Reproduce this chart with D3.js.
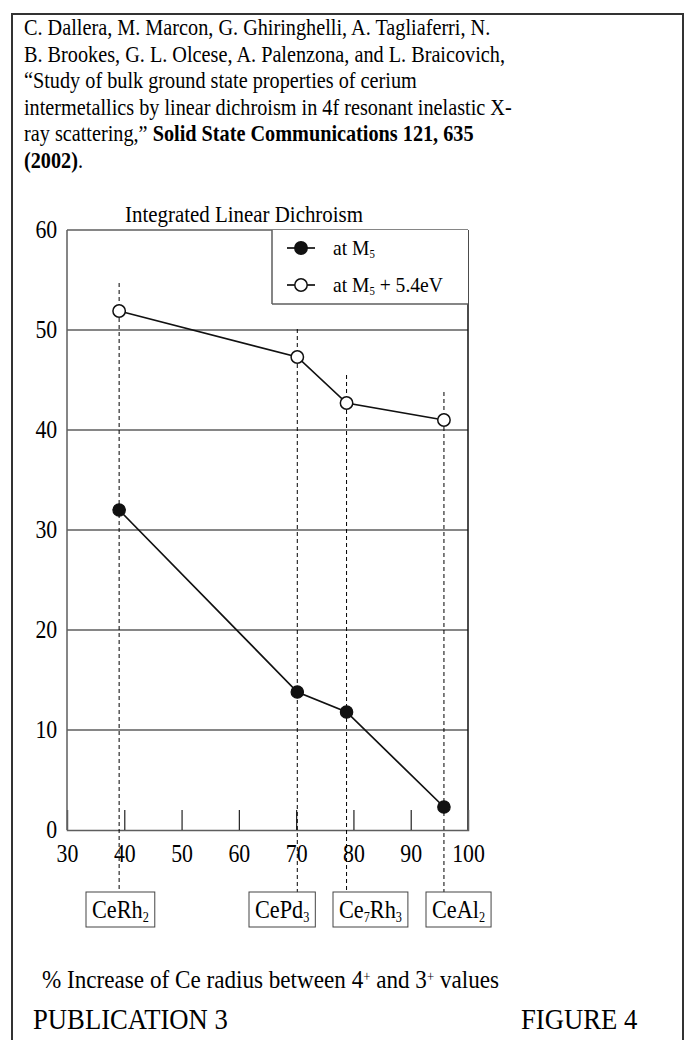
<!DOCTYPE html>
<html>
<head>
<meta charset="utf-8">
<script src="https://cdn.jsdelivr.net/npm/d3@7"></script>
<style>
  body { margin: 0; background: #fff; }
</style>
</head>
<body>
<svg id="fig" width="685" height="1040"></svg>
<script>
// Compounds, their % increase of Ce radius (4+ -> 3+), and integrated linear dichroism
const compounds = ["CeRh_2", "CePd_3", "Ce_7Rh_3", "CeAl_2"];
const radiusIncrease = [39.1, 70.2, 78.8, 95.8];
const dichroismM5 = [32.0, 13.8, 11.8, 2.3];
const dichroismM5Plus = [51.9, 47.3, 42.7, 41.0];
const seriesNames = ["at M_5", "at M_5 + 5.4eV"];
const xTicks = [30, 40, 50, 60, 70, 80, 90, 100];
const yTicks = [0, 10, 20, 30, 40, 50, 60];

const citation = [
  [["C. Dallera, M. Marcon, G. Ghiringhelli, A. Tagliaferri, N.", false]],
  [["B. Brookes, G. L. Olcese, A. Palenzona, and L. Braicovich,", false]],
  [["\u201CStudy of bulk ground state properties of cerium", false]],
  [["intermetallics by linear dichroism in 4f resonant inelastic X-", false]],
  [["ray scattering,\u201D ", false], ["Solid State Communications 121, 635", true]],
  [["(2002)", true], [".", false]]
];

const SERIF = '"Liberation Serif", "Times New Roman", serif';
const SX = 0.89;   // narrow set width of the typeface

const svg = d3.select("#fig");

// text placed at (x, y) with a slightly condensed set width
function label(parent, x, y, size, sx = SX) {
  return parent.append("text")
    .attr("transform", `translate(${x},${y}) scale(${sx},1)`)
    .style("font-family", SERIF).style("font-size", size + "px").style("fill", "#000");
}

// render a string where "_x" marks a subscript and "^x" a superscript
function richText(sel, str, size) {
  const parts = str.split(/([_^][^ _^A-Za-z]+)/).filter(p => p !== "");
  parts.forEach(p => {
    if (p[0] === "_" || p[0] === "^") {
      sel.append("tspan").text(p.slice(1))
        .attr("baseline-shift", p[0] === "_" ? "-30%" : "48%")
        .style("font-size", (size * 0.55) + "px");
    } else {
      sel.append("tspan").text(p);
    }
  });
  return sel;
}

// page frame
svg.append("path")
  .attr("d", "M12,1045 V14 H683 V1045")
  .attr("fill", "none").attr("stroke", "#333").attr("stroke-width", 2);

// citation block
citation.forEach((segs, i) => {
  const t = label(svg, 24, 35 + i * 26.6, 23, 0.88);
  segs.forEach(([s, bold]) => {
    t.append("tspan").text(s).style("font-weight", bold ? "bold" : "normal");
  });
});

const plotL = 67, plotR = 468, plotT = 230, plotB = 830;
const x = d3.scaleLinear().domain([30, 100]).range([plotL, plotR]);
const y = d3.scaleLinear().domain([0, 60]).range([plotB, plotT]);

const gridColor = "#5e5e5e";

// horizontal gridlines
svg.append("g").selectAll("line")
  .data(yTicks.filter(v => v > 0 && v < 60))
  .join("line")
  .attr("x1", plotL).attr("x2", plotR)
  .attr("y1", d => y(d)).attr("y2", d => y(d))
  .attr("stroke", gridColor).attr("stroke-width", 1.5);

// plot frame
svg.append("line").attr("x1", plotL).attr("x2", plotR).attr("y1", plotT).attr("y2", plotT)
  .attr("stroke", gridColor).attr("stroke-width", 1.5);
svg.append("line").attr("x1", plotL).attr("x2", plotL).attr("y1", plotT).attr("y2", plotB)
  .attr("stroke", gridColor).attr("stroke-width", 1.5);
svg.append("line").attr("x1", plotR).attr("x2", plotR).attr("y1", plotT).attr("y2", plotB)
  .attr("stroke", "#111").attr("stroke-width", 1.5);

// x axis: inner ticks pointing up, labels below
const xAxis = svg.append("g").attr("transform", `translate(0,${plotB})`)
  .call(d3.axisBottom(x).tickValues(xTicks).tickSize(-20).tickPadding(15).tickFormat(d3.format("d")));
xAxis.attr("font-family", null).attr("font-size", null);
xAxis.select(".domain").attr("stroke", gridColor).attr("stroke-width", 1.5);
xAxis.selectAll(".tick line").attr("stroke", "#222").attr("stroke-width", 1.2)
  .attr("display", d => (d === 30 || d === 100) ? "none" : null);
xAxis.selectAll(".tick text")
  .style("font-family", SERIF).style("font-size", "24.5px").style("fill", "#000")
  .attr("transform", `scale(${SX},1)`);

// y axis labels
const yAxis = svg.append("g").attr("transform", `translate(${plotL},0)`)
  .call(d3.axisLeft(y).tickValues(yTicks).tickSize(0).tickPadding(11).tickFormat(d3.format("d")));
yAxis.attr("font-family", null).attr("font-size", null);
yAxis.select(".domain").remove();
yAxis.selectAll(".tick text")
  .style("font-family", SERIF).style("font-size", "24.5px").style("fill", "#000")
  .attr("transform", `scale(${SX},1)`);

// y axis title
label(svg, 125, 222, 23.5).text("Integrated Linear Dichroism");

// dashed guides from each compound up past its points and down to its label box
const boxTop = 892, boxH = 35;
svg.append("g").selectAll("line")
  .data(radiusIncrease)
  .join("line")
  .attr("x1", d => x(d)).attr("x2", d => x(d))
  .attr("y1", (d, i) => y(dichroismM5Plus[i]) - 28)
  .attr("y2", boxTop)
  .attr("stroke", "#000").attr("stroke-width", 1).attr("stroke-dasharray", "4,3");

// series lines and markers
const line = d3.line().x(d => x(d[0])).y(d => y(d[1]));
const ptsA = radiusIncrease.map((v, i) => [v, dichroismM5[i]]);
const ptsB = radiusIncrease.map((v, i) => [v, dichroismM5Plus[i]]);
[ptsA, ptsB].forEach(pts => {
  svg.append("path").datum(pts).attr("d", line)
    .attr("fill", "none").attr("stroke", "#111").attr("stroke-width", 1.7);
});
svg.append("g").selectAll("circle").data(ptsA).join("circle")
  .attr("cx", d => x(d[0])).attr("cy", d => y(d[1])).attr("r", 6.2)
  .attr("fill", "#111").attr("stroke", "#111").attr("stroke-width", 1.2);
svg.append("g").selectAll("circle").data(ptsB).join("circle")
  .attr("cx", d => x(d[0])).attr("cy", d => y(d[1])).attr("r", 6.2)
  .attr("fill", "#fff").attr("stroke", "#111").attr("stroke-width", 1.5);

// legend
const lg = svg.append("g");
lg.append("rect").attr("x", 272).attr("y", plotT).attr("width", plotR - 272).attr("height", 74)
  .attr("fill", "#fff").attr("stroke", "none");
lg.append("line").attr("x1", 272).attr("x2", 272).attr("y1", plotT).attr("y2", 304)
  .attr("stroke", gridColor).attr("stroke-width", 1.5);
lg.append("line").attr("x1", 272).attr("x2", plotR).attr("y1", 304).attr("y2", 304)
  .attr("stroke", gridColor).attr("stroke-width", 1.5);
seriesNames.forEach((name, i) => {
  const ly = 248 + i * 37;
  lg.append("line").attr("x1", 287).attr("x2", 315).attr("y1", ly).attr("y2", ly)
    .attr("stroke", "#111").attr("stroke-width", 1.7);
  lg.append("circle").attr("cx", 301).attr("cy", ly).attr("r", 6.2)
    .attr("fill", i === 0 ? "#111" : "#fff").attr("stroke", "#111").attr("stroke-width", 1.5);
  richText(label(lg, 333, ly + 7, 22), name, 22);
});

// compound label boxes
const boxLeft = [86, 249, 333, 426];
compounds.forEach((c, i) => {
  const g = svg.append("g");
  const t = richText(label(g, boxLeft[i] + 6, boxTop + 26, 25), c, 25);
  const w = t.node().getComputedTextLength() * SX;
  g.insert("rect", "text").attr("x", boxLeft[i]).attr("y", boxTop)
    .attr("width", w + 12).attr("height", boxH)
    .attr("fill", "#fff").attr("stroke", "#444").attr("stroke-width", 1);
});

// x axis title
richText(label(svg, 42, 988, 26), "% Increase of Ce radius between 4^+ and 3^+ values", 26);

// footer
label(svg, 33, 1029, 29, 0.92).text("PUBLICATION 3");
label(svg, 521, 1029, 29, 0.92).text("FIGURE 4");
</script>
</body>
</html>
